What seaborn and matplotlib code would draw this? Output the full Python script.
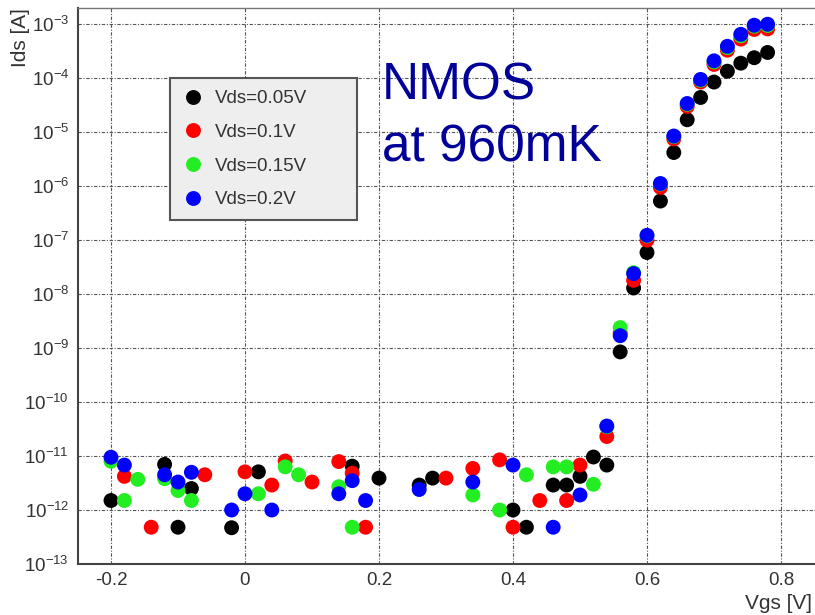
import numpy as np
import pandas as pd
import seaborn as sns
import matplotlib.pyplot as plt
from matplotlib.ticker import LogLocator, MultipleLocator, FuncFormatter, NullFormatter

nan = np.nan

# gate voltage sweep [V]
vgs = [-0.20, -0.18, -0.16, -0.14, -0.12, -0.10, -0.08, -0.06, -0.04, -0.02,
       0.00, 0.02, 0.04, 0.06, 0.08, 0.10, 0.12, 0.14, 0.16, 0.18,
       0.20, 0.22, 0.24, 0.26, 0.28, 0.30, 0.32, 0.34, 0.36, 0.38,
       0.40, 0.42, 0.44, 0.46, 0.48, 0.50, 0.52, 0.54, 0.56, 0.58,
       0.60, 0.62, 0.64, 0.66, 0.68, 0.70, 0.72, 0.74, 0.76, 0.78]

# drain current [A], nan = not shown on log axis
ids_005 = [1.5e-12, nan, nan, nan, 7e-12, 4.8e-13, 2.5e-12, nan, nan, 4.7e-13,
           nan, 5.1e-12, nan, nan, nan, nan, nan, nan, 6.5e-12, nan,
           3.9e-12, nan, nan, 2.9e-12, 3.9e-12, nan, nan, nan, nan, nan,
           1e-12, 4.8e-13, nan, 2.9e-12, 2.9e-12, 4.2e-12, 9.6e-12, 6.8e-12, 8.5e-10, 1.3e-8,
           5.9e-8, 5.3e-7, 4.2e-6, 1.7e-5, 4.4e-5, 8.5e-5, 1.35e-4, 1.9e-4, 2.4e-4, 3e-4]
ids_010 = [nan, 4.2e-12, nan, 4.8e-13, nan, nan, nan, 4.5e-12, nan, nan,
           5.1e-12, nan, 2.9e-12, 8.1e-12, nan, 3.3e-12, nan, 7.9e-12, 4.8e-12, 4.8e-13,
           nan, nan, nan, nan, nan, 3.9e-12, nan, 5.9e-12, nan, 8.5e-12,
           4.8e-13, nan, 1.5e-12, nan, 1.5e-12, 6.8e-12, nan, 2.3e-11, 1.9e-9, 1.8e-8,
           1.0e-7, 9.5e-7, 7.5e-6, 3.0e-5, 8.5e-5, 1.8e-4, 3.3e-4, 5.3e-4, 8.0e-4, 8.2e-4]
ids_015 = [8e-12, 1.5e-12, 3.7e-12, nan, 3.8e-12, 2.3e-12, 1.5e-12, nan, nan, nan,
           nan, 2e-12, nan, 6.3e-12, 4.5e-12, nan, nan, 2.7e-12, 4.8e-13, nan,
           nan, nan, nan, nan, nan, nan, nan, 1.9e-12, nan, 1e-12,
           nan, 4.5e-12, nan, 6.3e-12, 6.3e-12, nan, 3e-12, 3.5e-11, 2.4e-9, 2.5e-8,
           1.2e-7, 1.1e-6, 8.3e-6, 3.3e-5, 9.2e-5, 2.0e-4, 3.7e-4, 6.1e-4, 9.2e-4, 9.5e-4]
ids_020 = [9.5e-12, 6.8e-12, nan, nan, 4.5e-12, 3.3e-12, 5e-12, nan, nan, 1e-12,
           2e-12, nan, 1e-12, nan, nan, nan, nan, 2e-12, 3.5e-12, 1.5e-12,
           nan, nan, nan, 2.4e-12, nan, nan, nan, 3.3e-12, nan, nan,
           6.8e-12, nan, nan, 4.8e-13, nan, 1.9e-12, nan, 3.6e-11, 1.7e-9, 2.4e-8,
           1.23e-7, 1.12e-6, 8.5e-6, 3.4e-5, 9.5e-5, 2.1e-4, 3.9e-4, 6.5e-4, 9.6e-4, 1.0e-3]

labels = ['Vds=0.05V', 'Vds=0.1V', 'Vds=0.15V', 'Vds=0.2V']
colors = ['#000000', '#ff0000', '#22ee22', '#0000ff']

frames = []
for label, ids in zip(labels, [ids_005, ids_010, ids_015, ids_020]):
    frames.append(pd.DataFrame({'Vgs': vgs, 'Ids': ids, 'Vds': label}))
df = pd.concat(frames, ignore_index=True).dropna()

sns.set_style('white')
plt.rcParams['font.family'] = ['Liberation Sans', 'DejaVu Sans']
plt.rcParams['mathtext.fontset'] = 'custom'
plt.rcParams['mathtext.rm'] = 'Liberation Sans'
plt.rcParams['axes.unicode_minus'] = False

fig = plt.figure(figsize=(8.15, 6.15), dpi=100)
ax = fig.add_axes([77.5 / 815, 51 / 615, 737 / 815, 556 / 615])
ax.set_yscale('log')

sns.scatterplot(
    data=df, x='Vgs', y='Ids', hue='Vds', hue_order=labels,
    palette=colors, s=115, linewidth=0, alpha=1, ax=ax, zorder=3,
)

ax.set_xlim(-0.25, 0.85)
ax.set_ylim(1e-13, 2e-3)

ax.xaxis.set_major_locator(MultipleLocator(0.2))
ax.xaxis.set_minor_locator(MultipleLocator(0.05))
ax.xaxis.set_major_formatter(FuncFormatter(lambda v, pos: '{:g}'.format(round(v, 2))))
ax.yaxis.set_major_locator(LogLocator(base=10, numticks=20))
ax.yaxis.set_minor_locator(LogLocator(base=10, subs=np.arange(2, 10), numticks=20))
ax.yaxis.set_minor_formatter(NullFormatter())
ax.yaxis.set_major_formatter(FuncFormatter(
    lambda v, pos: '$\\mathregular{10^{%d}}$' % int(round(np.log10(v)))))

ax.tick_params(which='both', direction='in', color='#444444', top=False, right=False)
ax.tick_params(which='major', labelsize=13.5, labelcolor='#333333', width=1.2, pad=6)
ax.tick_params(axis='x', which='major', length=14)
ax.tick_params(axis='y', which='major', length=11)
ax.tick_params(which='minor', length=6, width=1.0)

ax.grid(True, which='major', color='#555555', linestyle=(0, (3, 1.5, 1, 1.5)), linewidth=0.8)
ax.set_axisbelow(True)

for side in ['left', 'bottom']:
    ax.spines[side].set_color('#444444')
    ax.spines[side].set_linewidth(1.5)
ax.spines['top'].set_color('#777777')
ax.spines['top'].set_linewidth(1.0)
ax.spines['right'].set_visible(False)

ax.set_xlabel('Vgs [V]', loc='right', fontsize=15, color='#333333')
ax.xaxis.set_label_coords(0.997, -0.054)
ax.set_ylabel('Ids [A]', loc='top', fontsize=15, color='#333333')
ax.yaxis.set_label_coords(-0.065, 1.0)

handles, _ = ax.get_legend_handles_labels()
leg = ax.legend(
    handles, labels, loc='upper left', mode='expand',
    bbox_to_anchor=(170 / 815, 1 - 218 / 615, 187 / 815, 140 / 615),
    bbox_transform=fig.transFigure, borderaxespad=0, fontsize=13.5,
    frameon=True, fancybox=False, facecolor='#eeeeee', edgecolor='#555555',
    framealpha=1, labelspacing=0.88, handlelength=1.15, handletextpad=0.6,
    borderpad=0.65, markerscale=1.0,
)
leg.get_frame().set_linewidth(1.5)
for t in leg.get_texts():
    t.set_color('#333333')

fig.text(382 / 815, 1 - 62 / 615, 'NMOS\nat 960mK', fontsize=37, color='#000099',
         va='top', ha='left', linespacing=1.33)

fig.savefig('out.png', dpi=100)
